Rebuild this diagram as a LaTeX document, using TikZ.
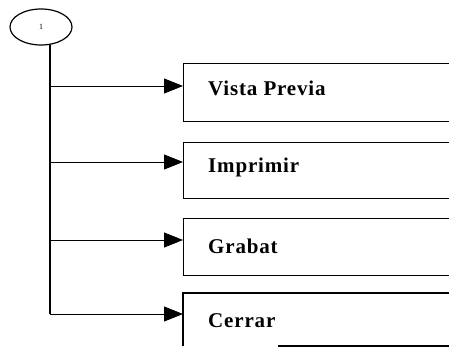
\documentclass[tikz,border=0pt]{standalone}
\usepackage{fontspec}
\setmainfont{Liberation Serif}
\usetikzlibrary{arrows.meta,shapes.geometric}
\begin{document}
\begin{tikzpicture}[x=1pt,y=-1pt,
  startell/.style={draw,ellipse,line width=1.2pt,minimum width=62pt,minimum height=36pt,inner sep=0pt,font=\fontsize{8}{9}\selectfont},
  boxnode/.style={draw,line width=1.2pt,rectangle,anchor=north west,minimum width=290pt,inner sep=0pt},
  opennode/.style={rectangle,anchor=north west,minimum width=290pt,inner sep=0pt},
  lbl/.style={anchor=base west,inner sep=0pt,font=\fontsize{21}{25}\selectfont\bfseries\addfontfeature{LetterSpace=4}},
  trunk/.style={line width=1.6pt},
  arr/.style={line width=0.9pt,-{Triangle[length=19pt,width=15pt]}},
  edge/.style={line width=1.2pt}]
\useasboundingbox (0,0) rectangle (449,347);
\clip (0,0) rectangle (449,347);
\node[startell] (s) at (41,27) {1};
\node[boxnode,minimum height=58pt] (b1) at (183,63) {};
\node[boxnode,minimum height=56pt] (b2) at (183,142) {};
\node[boxnode,minimum height=57pt] (b3) at (183,218) {};
\node[opennode,minimum height=53pt] (b4) at (183,293) {};
\draw[edge] (b4.north east) -- (b4.north west) -- (b4.south west);
\coordinate (c4) at (278,346);
\draw[edge] (c4) -- (c4 -| b4.east);
\node[lbl] (t1) at (208,96) {Vista Previa};
\node[lbl] (t2) at (208,173) {Imprimir};
\node[lbl] (t3) at (208,253) {Grabat};
\node[lbl] (t4) at (208,327) {Cerrar};
\coordinate (k1) at (50,86);
\coordinate (k2) at (50,162);
\coordinate (k3) at (50,240);
\coordinate (k4) at (50,314);
\draw[trunk] (k4 |- s.-62) -- (k4);
\draw[arr] (k1) -- (k1 -| b1.west);
\draw[arr] (k2) -- (k2 -| b2.west);
\draw[arr] (k3) -- (k3 -| b3.west);
\draw[arr] (k4) -- (k4 -| b4.west);
\end{tikzpicture}
\end{document}
